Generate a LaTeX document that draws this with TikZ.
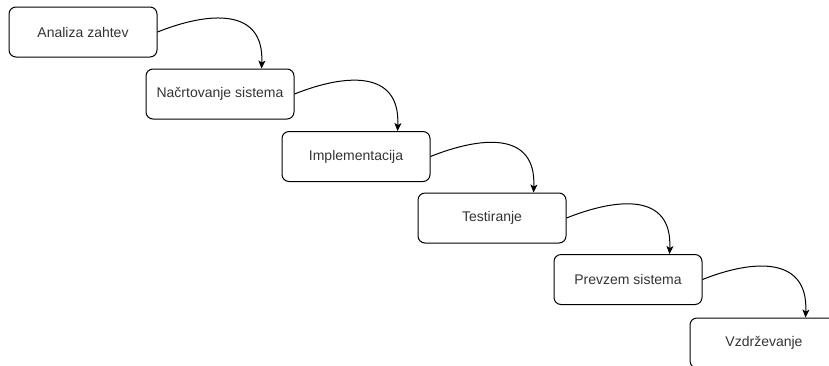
\documentclass[tikz,border=0pt]{standalone}
\usepackage{fontspec}
\setmainfont{Liberation Sans}
\usetikzlibrary{arrows.meta,calc}
\definecolor{txt}{HTML}{333333}
\tikzset{
  stage/.style={draw=black, line width=1pt, rounded corners=7pt, minimum width=148pt, minimum height=50pt,
    text=txt, font=\fontsize{14}{16}\selectfont, inner sep=0pt},
  flow/.style={line width=1pt, -{Stealth[length=8pt,width=7pt,inset=2pt]}}
}
\begin{document}
\begin{tikzpicture}[x=1pt,y=-1pt]
\useasboundingbox (0,0) rectangle (829,365);
\clip (0,0) rectangle (829,365);
\node[stage] (s1) at (83,32) {Analiza zahtev};
\node[stage] (s2) at (220,94) {Načrtovanje sistema};
\node[stage] (s3) at (356,156.5) {Implementacija};
\node[stage] (s4) at (492,218) {Testiranje};
\node[stage] (s5) at (628,279.5) {Prevzem sistema};
\node[stage] (s6) at (764,343) {Vzdrževanje};
\foreach \a/\b in {s1/s2,s2/s3,s3/s4,s4/s5,s5/s6}{
  \coordinate (t\b) at ($(\b.north east)+(-33,0)$);
  \draw[flow] (\a.east) .. controls +(50,-20) and +(3,-62) .. (t\b);
}
\end{tikzpicture}
\end{document}
